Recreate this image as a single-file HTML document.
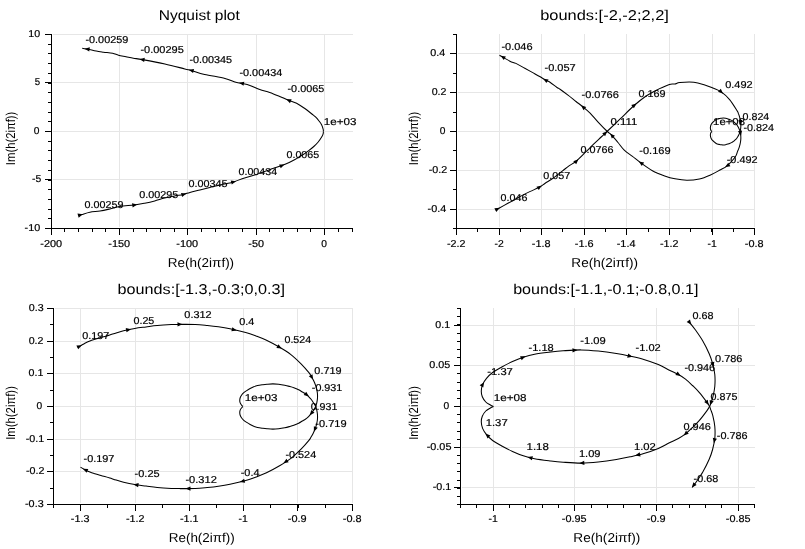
<!DOCTYPE html>
<html><head><meta charset="utf-8"><style>
html,body{margin:0;padding:0;background:#fff;overflow:hidden;}
svg{display:block;}
text{font-family:"Liberation Sans", sans-serif;fill:#000;text-rendering:geometricPrecision;stroke:#000;stroke-width:0.2px;}
text.b{stroke:none;}
svg{filter:grayscale(1);}
</style></head><body>
<svg width="805" height="549" viewBox="0 0 805 549">
<rect width="805" height="549" fill="#fff"/>
<line x1="119.5" y1="34" x2="119.5" y2="227" stroke="#e6e6e6"/>
<line x1="187.5" y1="34" x2="187.5" y2="227" stroke="#e6e6e6"/>
<line x1="256.5" y1="34" x2="256.5" y2="227" stroke="#e6e6e6"/>
<line x1="324.5" y1="34" x2="324.5" y2="227" stroke="#e6e6e6"/>
<line x1="53" y1="179.5" x2="353" y2="179.5" stroke="#e6e6e6"/>
<line x1="53" y1="131.5" x2="353" y2="131.5" stroke="#e6e6e6"/>
<line x1="53" y1="82.5" x2="353" y2="82.5" stroke="#e6e6e6"/>
<line x1="53" y1="34.5" x2="353" y2="34.5" stroke="#e6e6e6"/>
<line x1="51" y1="228.5" x2="353" y2="228.5" stroke="#000"/>
<line x1="51.5" y1="34" x2="51.5" y2="229" stroke="#000"/>
<line x1="51.5" y1="229" x2="51.5" y2="235" stroke="#000"/>
<line x1="119.5" y1="229" x2="119.5" y2="235" stroke="#000"/>
<line x1="187.5" y1="229" x2="187.5" y2="235" stroke="#000"/>
<line x1="256.5" y1="229" x2="256.5" y2="235" stroke="#000"/>
<line x1="324.5" y1="229" x2="324.5" y2="235" stroke="#000"/>
<line x1="64.5" y1="229" x2="64.5" y2="232" stroke="#000"/>
<line x1="78.5" y1="229" x2="78.5" y2="232" stroke="#000"/>
<line x1="92.5" y1="229" x2="92.5" y2="232" stroke="#000"/>
<line x1="105.5" y1="229" x2="105.5" y2="232" stroke="#000"/>
<line x1="133.5" y1="229" x2="133.5" y2="232" stroke="#000"/>
<line x1="146.5" y1="229" x2="146.5" y2="232" stroke="#000"/>
<line x1="160.5" y1="229" x2="160.5" y2="232" stroke="#000"/>
<line x1="174.5" y1="229" x2="174.5" y2="232" stroke="#000"/>
<line x1="201.5" y1="229" x2="201.5" y2="232" stroke="#000"/>
<line x1="215.5" y1="229" x2="215.5" y2="232" stroke="#000"/>
<line x1="228.5" y1="229" x2="228.5" y2="232" stroke="#000"/>
<line x1="242.5" y1="229" x2="242.5" y2="232" stroke="#000"/>
<line x1="269.5" y1="229" x2="269.5" y2="232" stroke="#000"/>
<line x1="283.5" y1="229" x2="283.5" y2="232" stroke="#000"/>
<line x1="297.5" y1="229" x2="297.5" y2="232" stroke="#000"/>
<line x1="310.5" y1="229" x2="310.5" y2="232" stroke="#000"/>
<line x1="338.5" y1="229" x2="338.5" y2="232" stroke="#000"/>
<line x1="352.5" y1="229" x2="352.5" y2="232" stroke="#000"/>
<line x1="45" y1="228.5" x2="51" y2="228.5" stroke="#000"/>
<line x1="45" y1="179.5" x2="51" y2="179.5" stroke="#000"/>
<line x1="45" y1="131.5" x2="51" y2="131.5" stroke="#000"/>
<line x1="45" y1="82.5" x2="51" y2="82.5" stroke="#000"/>
<line x1="45" y1="34.5" x2="51" y2="34.5" stroke="#000"/>
<line x1="48" y1="218.5" x2="51" y2="218.5" stroke="#000"/>
<line x1="48" y1="209.5" x2="51" y2="209.5" stroke="#000"/>
<line x1="48" y1="199.5" x2="51" y2="199.5" stroke="#000"/>
<line x1="48" y1="189.5" x2="51" y2="189.5" stroke="#000"/>
<line x1="48" y1="180.5" x2="51" y2="180.5" stroke="#000"/>
<line x1="48" y1="170.5" x2="51" y2="170.5" stroke="#000"/>
<line x1="48" y1="160.5" x2="51" y2="160.5" stroke="#000"/>
<line x1="48" y1="150.5" x2="51" y2="150.5" stroke="#000"/>
<line x1="48" y1="141.5" x2="51" y2="141.5" stroke="#000"/>
<line x1="48" y1="121.5" x2="51" y2="121.5" stroke="#000"/>
<line x1="48" y1="112.5" x2="51" y2="112.5" stroke="#000"/>
<line x1="48" y1="102.5" x2="51" y2="102.5" stroke="#000"/>
<line x1="48" y1="92.5" x2="51" y2="92.5" stroke="#000"/>
<line x1="48" y1="83.5" x2="51" y2="83.5" stroke="#000"/>
<line x1="48" y1="73.5" x2="51" y2="73.5" stroke="#000"/>
<line x1="48" y1="63.5" x2="51" y2="63.5" stroke="#000"/>
<line x1="48" y1="53.5" x2="51" y2="53.5" stroke="#000"/>
<line x1="48" y1="44.5" x2="51" y2="44.5" stroke="#000"/>
<text x="40.27" y="246.90" font-size="10" textLength="21.81" lengthAdjust="spacingAndGlyphs">-200</text>
<text x="108.27" y="246.90" font-size="10" textLength="21.81" lengthAdjust="spacingAndGlyphs">-150</text>
<text x="176.27" y="246.90" font-size="10" textLength="21.81" lengthAdjust="spacingAndGlyphs">-100</text>
<text x="248.36" y="246.90" font-size="10" textLength="15.63" lengthAdjust="spacingAndGlyphs">-50</text>
<text x="321.36" y="246.90" font-size="10" textLength="5.69" lengthAdjust="spacingAndGlyphs">0</text>
<text x="24.56" y="231.00" font-size="10" textLength="15.63" lengthAdjust="spacingAndGlyphs">-10</text>
<text x="32.06" y="182.00" font-size="10" textLength="9.25" lengthAdjust="spacingAndGlyphs">-5</text>
<text x="33.71" y="134.00" font-size="10" textLength="5.69" lengthAdjust="spacingAndGlyphs">0</text>
<text x="34.63" y="85.00" font-size="10" textLength="5.37" lengthAdjust="spacingAndGlyphs">5</text>
<text x="28.22" y="37.00" font-size="10" textLength="11.86" lengthAdjust="spacingAndGlyphs">10</text>
<text x="158.73" y="19.80" font-size="14.2" textLength="81.09" lengthAdjust="spacingAndGlyphs" class="b">Nyquist plot</text>
<text x="167.89" y="266.90" font-size="12.9" textLength="66.24" lengthAdjust="spacingAndGlyphs" class="b">Re(h(2iπf))</text>
<text class="b" transform="translate(15.05,164.10) rotate(-90)" x="-1.04" y="0" font-size="12.9" textLength="53.44" lengthAdjust="spacingAndGlyphs">Im(h(2iπf))</text>
<path d="M82.20,48.30 C83.17,48.45 85.67,48.73 88.00,49.20 C90.33,49.67 93.60,50.60 96.20,51.10 C98.80,51.60 100.87,51.83 103.60,52.20 C106.33,52.57 110.12,52.80 112.60,53.30 C115.08,53.80 116.27,54.63 118.50,55.20 C120.73,55.77 123.52,56.20 126.00,56.70 C128.48,57.20 130.67,57.72 133.40,58.20 C136.13,58.68 137.15,58.63 142.40,59.60 C147.65,60.57 157.83,62.45 164.90,64.00 C171.97,65.55 180.42,67.83 184.80,68.90 C189.18,69.97 187.90,69.48 191.20,70.40 C194.50,71.32 198.97,73.07 204.60,74.40 C210.23,75.73 219.95,77.13 225.00,78.40 C230.05,79.67 232.08,81.17 234.90,82.00 C237.72,82.83 239.40,82.83 241.90,83.40 C244.40,83.97 246.92,84.40 249.90,85.40 C252.88,86.40 256.50,88.23 259.80,89.40 C263.10,90.57 266.38,91.23 269.70,92.40 C273.02,93.57 276.55,95.08 279.70,96.40 C282.85,97.72 285.78,99.15 288.60,100.30 C291.42,101.45 293.95,101.97 296.60,103.30 C299.25,104.63 301.95,106.52 304.50,108.30 C307.05,110.08 310.07,112.57 311.90,114.00 C313.73,115.43 314.28,115.70 315.50,116.90 C316.72,118.10 318.17,119.87 319.20,121.20 C320.23,122.53 321.03,123.55 321.70,124.90 C322.37,126.25 322.92,128.20 323.20,129.30 C323.48,130.40 323.37,131.13 323.40,131.50" fill="none" stroke="#000" stroke-width="1.05" stroke-linejoin="round"/>
<path d="M78.50,215.50 C79.07,215.33 80.00,215.05 81.90,214.50 C83.80,213.95 86.88,212.78 89.90,212.20 C92.92,211.62 96.67,211.55 100.00,211.00 C103.33,210.45 106.58,209.67 109.90,208.90 C113.22,208.13 115.83,207.05 119.90,206.40 C123.97,205.75 130.17,205.53 134.30,205.00 C138.43,204.47 141.30,203.88 144.70,203.20 C148.10,202.52 151.38,201.78 154.70,200.90 C158.02,200.02 161.28,198.73 164.60,197.90 C167.92,197.07 171.45,196.48 174.60,195.90 C177.75,195.32 180.95,194.98 183.50,194.40 C186.05,193.82 187.17,193.15 189.90,192.40 C192.63,191.65 196.58,190.73 199.90,189.90 C203.22,189.07 206.48,188.23 209.80,187.40 C213.12,186.57 216.48,185.65 219.80,184.90 C223.12,184.15 227.30,183.43 229.70,182.90 C232.10,182.37 231.72,182.53 234.20,181.70 C236.68,180.87 241.20,179.02 244.60,177.90 C248.00,176.78 251.83,175.87 254.60,175.00 C257.37,174.13 259.07,173.45 261.20,172.70 C263.33,171.95 265.33,171.23 267.40,170.50 C269.47,169.77 271.22,169.12 273.60,168.30 C275.98,167.48 279.10,166.58 281.70,165.60 C284.30,164.62 286.92,163.45 289.20,162.40 C291.48,161.35 293.65,160.28 295.40,159.30 C297.15,158.32 298.45,157.25 299.70,156.50 C300.95,155.75 301.40,155.78 302.90,154.80 C304.40,153.82 306.88,151.98 308.70,150.60 C310.52,149.22 312.22,147.93 313.80,146.50 C315.38,145.07 316.82,143.70 318.20,142.00 C319.58,140.30 321.27,137.72 322.10,136.30 C322.93,134.88 322.98,134.30 323.20,133.50 C323.42,132.70 323.37,131.83 323.40,131.50" fill="none" stroke="#000" stroke-width="1.05" stroke-linejoin="round"/>
<path d="M84.61,48.67 L89.88,47.37 L89.23,51.52 Z" fill="#000"/>
<path d="M139.54,59.15 L144.80,57.85 L144.16,62.00 Z" fill="#000"/>
<path d="M188.69,69.81 L194.04,68.91 L193.08,73.00 Z" fill="#000"/>
<path d="M239.01,82.82 L244.32,81.74 L243.50,85.86 Z" fill="#000"/>
<path d="M286.24,99.26 L291.66,99.35 L289.97,103.19 Z" fill="#000"/>
<path d="M82.87,214.21 L78.67,217.64 L77.49,213.61 Z" fill="#000"/>
<path d="M137.25,204.49 L132.68,207.41 L131.96,203.27 Z" fill="#000"/>
<path d="M186.35,193.51 L182.21,197.00 L180.95,193.00 Z" fill="#000"/>
<path d="M236.09,181.20 L231.80,184.51 L230.71,180.46 Z" fill="#000"/>
<path d="M284.52,164.40 L280.74,168.29 L279.10,164.43 Z" fill="#000"/>
<text x="85.42" y="43.00" font-size="10.0" textLength="42.90" lengthAdjust="spacingAndGlyphs">-0.00259</text>
<text x="140.41" y="52.90" font-size="10.0" textLength="43.35" lengthAdjust="spacingAndGlyphs">-0.00295</text>
<text x="189.42" y="63.10" font-size="10.0" textLength="42.74" lengthAdjust="spacingAndGlyphs">-0.00345</text>
<text x="239.42" y="75.80" font-size="10.0" textLength="43.00" lengthAdjust="spacingAndGlyphs">-0.00434</text>
<text x="287.52" y="91.70" font-size="10.0" textLength="36.74" lengthAdjust="spacingAndGlyphs">-0.0065</text>
<text x="323.82" y="125.00" font-size="10.0" textLength="32.59" lengthAdjust="spacingAndGlyphs">1e+03</text>
<text x="286.48" y="157.70" font-size="10.0" textLength="32.77" lengthAdjust="spacingAndGlyphs">0.0065</text>
<text x="238.48" y="175.00" font-size="10.0" textLength="38.63" lengthAdjust="spacingAndGlyphs">0.00434</text>
<text x="188.48" y="187.30" font-size="10.0" textLength="39.08" lengthAdjust="spacingAndGlyphs">0.00345</text>
<text x="139.28" y="197.70" font-size="10.0" textLength="39.08" lengthAdjust="spacingAndGlyphs">0.00295</text>
<text x="84.58" y="208.00" font-size="10.0" textLength="38.83" lengthAdjust="spacingAndGlyphs">0.00259</text>
<line x1="499.5" y1="34" x2="499.5" y2="227" stroke="#e6e6e6"/>
<line x1="541.5" y1="34" x2="541.5" y2="227" stroke="#e6e6e6"/>
<line x1="584.5" y1="34" x2="584.5" y2="227" stroke="#e6e6e6"/>
<line x1="626.5" y1="34" x2="626.5" y2="227" stroke="#e6e6e6"/>
<line x1="669.5" y1="34" x2="669.5" y2="227" stroke="#e6e6e6"/>
<line x1="712.5" y1="34" x2="712.5" y2="227" stroke="#e6e6e6"/>
<line x1="754.5" y1="34" x2="754.5" y2="227" stroke="#e6e6e6"/>
<line x1="458" y1="209.5" x2="755" y2="209.5" stroke="#e6e6e6"/>
<line x1="458" y1="170.5" x2="755" y2="170.5" stroke="#e6e6e6"/>
<line x1="458" y1="131.5" x2="755" y2="131.5" stroke="#e6e6e6"/>
<line x1="458" y1="92.5" x2="755" y2="92.5" stroke="#e6e6e6"/>
<line x1="458" y1="53.5" x2="755" y2="53.5" stroke="#e6e6e6"/>
<line x1="456" y1="228.5" x2="755" y2="228.5" stroke="#000"/>
<line x1="456.5" y1="34" x2="456.5" y2="229" stroke="#000"/>
<line x1="456.5" y1="229" x2="456.5" y2="235" stroke="#000"/>
<line x1="499.5" y1="229" x2="499.5" y2="235" stroke="#000"/>
<line x1="541.5" y1="229" x2="541.5" y2="235" stroke="#000"/>
<line x1="584.5" y1="229" x2="584.5" y2="235" stroke="#000"/>
<line x1="626.5" y1="229" x2="626.5" y2="235" stroke="#000"/>
<line x1="669.5" y1="229" x2="669.5" y2="235" stroke="#000"/>
<line x1="712.5" y1="229" x2="712.5" y2="235" stroke="#000"/>
<line x1="754.5" y1="229" x2="754.5" y2="235" stroke="#000"/>
<line x1="477.5" y1="229" x2="477.5" y2="232" stroke="#000"/>
<line x1="520.5" y1="229" x2="520.5" y2="232" stroke="#000"/>
<line x1="562.5" y1="229" x2="562.5" y2="232" stroke="#000"/>
<line x1="605.5" y1="229" x2="605.5" y2="232" stroke="#000"/>
<line x1="648.5" y1="229" x2="648.5" y2="232" stroke="#000"/>
<line x1="690.5" y1="229" x2="690.5" y2="232" stroke="#000"/>
<line x1="711.5" y1="229" x2="711.5" y2="232" stroke="#000"/>
<line x1="733.5" y1="229" x2="733.5" y2="232" stroke="#000"/>
<line x1="450" y1="209.5" x2="456" y2="209.5" stroke="#000"/>
<line x1="450" y1="170.5" x2="456" y2="170.5" stroke="#000"/>
<line x1="450" y1="131.5" x2="456" y2="131.5" stroke="#000"/>
<line x1="450" y1="92.5" x2="456" y2="92.5" stroke="#000"/>
<line x1="450" y1="53.5" x2="456" y2="53.5" stroke="#000"/>
<line x1="453" y1="228.5" x2="456" y2="228.5" stroke="#000"/>
<line x1="453" y1="189.5" x2="456" y2="189.5" stroke="#000"/>
<line x1="453" y1="150.5" x2="456" y2="150.5" stroke="#000"/>
<line x1="453" y1="112.5" x2="456" y2="112.5" stroke="#000"/>
<line x1="453" y1="73.5" x2="456" y2="73.5" stroke="#000"/>
<line x1="453" y1="34.5" x2="456" y2="34.5" stroke="#000"/>
<text x="446.98" y="246.90" font-size="10" textLength="18.50" lengthAdjust="spacingAndGlyphs">-2.2</text>
<text x="494.63" y="246.90" font-size="10" textLength="9.21" lengthAdjust="spacingAndGlyphs">-2</text>
<text x="531.82" y="246.90" font-size="10" textLength="18.75" lengthAdjust="spacingAndGlyphs">-1.8</text>
<text x="574.79" y="246.90" font-size="10" textLength="18.81" lengthAdjust="spacingAndGlyphs">-1.6</text>
<text x="616.76" y="246.90" font-size="10" textLength="18.71" lengthAdjust="spacingAndGlyphs">-1.4</text>
<text x="659.98" y="246.90" font-size="10" textLength="18.50" lengthAdjust="spacingAndGlyphs">-1.2</text>
<text x="707.59" y="246.90" font-size="10" textLength="9.28" lengthAdjust="spacingAndGlyphs">-1</text>
<text x="744.82" y="246.90" font-size="10" textLength="18.75" lengthAdjust="spacingAndGlyphs">-0.8</text>
<text x="427.61" y="212.00" font-size="10" textLength="18.71" lengthAdjust="spacingAndGlyphs">-0.4</text>
<text x="428.78" y="173.00" font-size="10" textLength="18.50" lengthAdjust="spacingAndGlyphs">-0.2</text>
<text x="439.66" y="134.00" font-size="10" textLength="5.69" lengthAdjust="spacingAndGlyphs">0</text>
<text x="431.73" y="95.00" font-size="10" textLength="14.76" lengthAdjust="spacingAndGlyphs">0.2</text>
<text x="430.36" y="56.00" font-size="10" textLength="14.98" lengthAdjust="spacingAndGlyphs">0.4</text>
<text x="540.24" y="19.80" font-size="14.2" textLength="128.63" lengthAdjust="spacingAndGlyphs" class="b">bounds:[-2,-2;2,2]</text>
<text x="571.39" y="266.90" font-size="12.9" textLength="66.65" lengthAdjust="spacingAndGlyphs" class="b">Re(h(2iπf))</text>
<text class="b" transform="translate(418.40,164.10) rotate(-90)" x="-1.04" y="0" font-size="12.9" textLength="53.44" lengthAdjust="spacingAndGlyphs">Im(h(2iπf))</text>
<path d="M495.50,210.00 C496.08,209.70 496.93,209.32 499.00,208.20 C501.07,207.08 505.17,204.80 507.90,203.30 C510.63,201.80 512.92,200.57 515.40,199.20 C517.88,197.83 520.32,196.40 522.80,195.10 C525.28,193.80 527.57,192.70 530.30,191.40 C533.03,190.10 536.72,188.67 539.20,187.30 C541.68,185.93 543.08,184.58 545.20,183.20 C547.32,181.82 549.05,181.02 551.90,179.00 C554.75,176.98 559.45,173.28 562.30,171.10 C565.15,168.92 566.63,167.58 569.00,165.90 C571.37,164.22 573.67,163.37 576.50,161.00 C579.33,158.63 583.15,154.52 586.00,151.70 C588.85,148.88 591.07,146.55 593.60,144.10 C596.13,141.65 598.97,139.10 601.20,137.00 C603.43,134.90 603.88,134.47 607.00,131.50 C610.12,128.53 615.38,123.53 619.90,119.20 C624.42,114.87 629.67,109.42 634.10,105.50 C638.53,101.58 642.35,98.47 646.50,95.70 C650.65,92.93 655.18,90.78 659.00,88.90 C662.82,87.02 666.75,85.22 669.40,84.40 C672.05,83.58 673.15,84.32 674.90,84.00 C676.65,83.68 676.75,82.80 679.90,82.50 C683.05,82.20 689.65,81.80 693.80,82.20 C697.95,82.60 701.65,83.95 704.80,84.90 C707.95,85.85 709.97,86.73 712.70,87.90 C715.43,89.07 718.38,89.95 721.20,91.90 C724.02,93.85 726.89,96.35 729.60,99.60 C732.31,102.85 736.01,109.09 737.46,111.38 C738.91,113.67 738.00,112.57 738.30,113.33 C738.59,114.09 738.95,115.00 739.25,115.94 C739.55,116.88 739.87,118.07 740.08,118.96 C740.30,119.85 740.40,120.46 740.53,121.29 C740.65,122.11 740.76,122.99 740.81,123.90 C740.86,124.81 740.86,125.84 740.81,126.75 C740.77,127.66 740.64,128.68 740.55,129.34 C740.46,130.00 740.36,130.36 740.29,130.72 C740.22,131.08 740.22,131.21 740.13,131.50 C740.05,131.79 740.02,131.92 739.80,132.47 C739.57,133.02 739.12,134.13 738.81,134.80 C738.49,135.47 738.21,135.95 737.91,136.49 C737.60,137.02 737.30,137.57 736.99,138.01 C736.69,138.44 736.42,138.75 736.07,139.10 C735.72,139.45 735.33,139.73 734.90,140.12 C734.46,140.51 734.01,141.03 733.45,141.45 C732.89,141.88 732.17,142.33 731.56,142.66 C730.95,143.00 730.37,143.21 729.77,143.45 C729.18,143.69 728.68,143.88 727.99,144.09 C727.30,144.30 726.39,144.54 725.62,144.68 C724.85,144.83 724.14,144.94 723.38,144.94 C722.61,144.95 721.71,144.81 721.06,144.73 C720.40,144.65 720.06,144.58 719.44,144.45 C718.82,144.31 717.93,144.13 717.33,143.92 C716.73,143.72 716.34,143.50 715.86,143.21 C715.38,142.92 714.90,142.54 714.45,142.17 C713.99,141.79 713.55,141.39 713.12,140.95 C712.69,140.52 712.20,140.04 711.85,139.58 C711.51,139.11 711.28,138.65 711.06,138.17 C710.84,137.70 710.66,137.20 710.55,136.70 C710.44,136.20 710.39,135.66 710.38,135.18 C710.38,134.70 710.41,134.24 710.51,133.80 C710.61,133.37 710.80,132.89 710.97,132.57 C711.14,132.25 711.35,132.08 711.52,131.90 C711.68,131.73 711.89,131.57 711.96,131.50" fill="none" stroke="#000" stroke-width="1.05" stroke-linejoin="round"/>
<path d="M499.50,55.20 C501.23,56.20 507.17,59.83 509.90,61.20 C512.63,62.57 513.42,62.22 515.90,63.40 C518.38,64.58 522.07,66.80 524.80,68.30 C527.53,69.80 529.82,71.03 532.30,72.40 C534.78,73.77 537.47,75.20 539.70,76.50 C541.93,77.80 543.98,79.23 545.70,80.20 C547.42,81.17 548.12,81.08 550.00,82.30 C551.88,83.52 555.33,86.33 557.00,87.50 C558.67,88.67 558.17,88.02 560.00,89.30 C561.83,90.58 565.33,93.17 568.00,95.20 C570.67,97.23 573.57,99.60 576.00,101.50 C578.43,103.40 580.25,104.67 582.60,106.60 C584.95,108.53 587.52,110.52 590.10,113.10 C592.68,115.68 595.23,119.03 598.10,122.10 C600.97,125.17 605.05,129.33 607.30,131.50 C609.55,133.67 609.82,133.27 611.60,135.10 C613.38,136.93 615.93,140.05 618.00,142.50 C620.07,144.95 621.58,147.48 624.00,149.80 C626.42,152.12 629.75,154.27 632.50,156.40 C635.25,158.53 637.18,160.22 640.50,162.60 C643.82,164.98 648.37,168.48 652.40,170.70 C656.43,172.92 660.93,174.55 664.70,175.90 C668.47,177.25 671.32,178.07 675.00,178.80 C678.68,179.53 682.73,180.27 686.80,180.30 C690.87,180.33 695.53,179.85 699.40,179.00 C703.27,178.15 706.57,176.70 710.00,175.20 C713.43,173.70 717.13,171.57 720.00,170.00 C722.87,168.43 724.67,167.97 727.20,165.80 C729.73,163.63 733.49,159.36 735.20,157.00 C736.91,154.64 736.95,152.84 737.46,151.62 C737.98,150.40 738.00,150.43 738.30,149.67 C738.59,148.91 738.95,148.00 739.25,147.06 C739.55,146.12 739.87,144.93 740.08,144.04 C740.30,143.15 740.40,142.54 740.53,141.71 C740.65,140.89 740.76,140.01 740.81,139.10 C740.86,138.19 740.86,137.16 740.81,136.25 C740.77,135.34 740.64,134.32 740.55,133.66 C740.46,133.00 740.36,132.64 740.29,132.28 C740.22,131.92 740.22,131.79 740.13,131.50 C740.05,131.21 740.02,131.08 739.80,130.53 C739.57,129.98 739.12,128.87 738.81,128.20 C738.49,127.53 738.21,127.05 737.91,126.51 C737.60,125.98 737.30,125.43 736.99,124.99 C736.69,124.56 736.42,124.25 736.07,123.90 C735.72,123.55 735.33,123.27 734.90,122.88 C734.46,122.49 734.01,121.97 733.45,121.55 C732.89,121.12 732.17,120.67 731.56,120.34 C730.95,120.00 730.37,119.79 729.77,119.55 C729.18,119.31 728.68,119.12 727.99,118.91 C727.30,118.70 726.39,118.46 725.62,118.32 C724.85,118.17 724.14,118.06 723.38,118.06 C722.61,118.05 721.71,118.19 721.06,118.27 C720.40,118.35 720.06,118.42 719.44,118.55 C718.82,118.69 717.93,118.87 717.33,119.08 C716.73,119.28 716.34,119.50 715.86,119.79 C715.38,120.08 714.90,120.46 714.45,120.83 C713.99,121.21 713.55,121.61 713.12,122.05 C712.69,122.48 712.20,122.96 711.85,123.42 C711.51,123.89 711.28,124.35 711.06,124.83 C710.84,125.30 710.66,125.80 710.55,126.30 C710.44,126.80 710.39,127.34 710.38,127.82 C710.38,128.30 710.41,128.76 710.51,129.20 C710.61,129.63 710.80,130.11 710.97,130.43 C711.14,130.75 711.35,130.92 711.52,131.10 C711.68,131.27 711.89,131.43 711.96,131.50" fill="none" stroke="#000" stroke-width="1.05" stroke-linejoin="round"/>
<path d="M499.79,207.79 L496.31,211.95 L494.39,208.21 Z" fill="#000"/>
<path d="M541.77,185.54 L538.83,190.10 L536.46,186.63 Z" fill="#000"/>
<path d="M578.34,159.20 L576.24,164.20 L573.30,161.19 Z" fill="#000"/>
<path d="M607.29,131.23 L605.11,136.19 L602.22,133.14 Z" fill="#000"/>
<path d="M636.49,103.61 L633.87,108.36 L631.27,105.06 Z" fill="#000"/>
<path d="M723.10,93.64 L717.99,91.81 L720.83,88.71 Z" fill="#000"/>
<path d="M740.93,124.96 L738.30,120.21 L742.47,119.76 Z" fill="#000"/>
<path d="M500.51,55.79 L505.89,56.46 L503.80,60.10 Z" fill="#000"/>
<path d="M543.23,78.68 L548.59,79.51 L546.39,83.09 Z" fill="#000"/>
<path d="M581.08,105.28 L586.23,106.97 L583.48,110.14 Z" fill="#000"/>
<path d="M610.14,133.41 L615.00,135.82 L611.82,138.57 Z" fill="#000"/>
<path d="M638.82,161.46 L644.14,162.54 L641.78,166.01 Z" fill="#000"/>
<path d="M725.04,167.06 L728.30,162.73 L730.42,166.35 Z" fill="#000"/>
<path d="M740.95,135.78 L737.96,131.26 L742.09,130.47 Z" fill="#000"/>
<text x="501.41" y="50.00" font-size="10.0" textLength="31.17" lengthAdjust="spacingAndGlyphs">-0.046</text>
<text x="544.51" y="71.40" font-size="10.0" textLength="31.24" lengthAdjust="spacingAndGlyphs">-0.057</text>
<text x="581.51" y="97.80" font-size="10.0" textLength="37.37" lengthAdjust="spacingAndGlyphs">-0.0766</text>
<text x="500.58" y="200.60" font-size="10.0" textLength="26.79" lengthAdjust="spacingAndGlyphs">0.046</text>
<text x="543.38" y="179.00" font-size="10.0" textLength="26.96" lengthAdjust="spacingAndGlyphs">0.057</text>
<text x="580.48" y="153.00" font-size="10.0" textLength="33.10" lengthAdjust="spacingAndGlyphs">0.0766</text>
<text x="610.48" y="125.00" font-size="10.0" textLength="26.74" lengthAdjust="spacingAndGlyphs">0.111</text>
<text x="638.48" y="97.00" font-size="10.0" textLength="27.03" lengthAdjust="spacingAndGlyphs">0.169</text>
<text x="725.17" y="87.90" font-size="10.0" textLength="27.48" lengthAdjust="spacingAndGlyphs">0.492</text>
<text x="639.31" y="153.80" font-size="10.0" textLength="31.21" lengthAdjust="spacingAndGlyphs">-0.169</text>
<text x="726.72" y="162.80" font-size="10.0" textLength="30.83" lengthAdjust="spacingAndGlyphs">-0.492</text>
<text x="742.58" y="120.00" font-size="10.0" textLength="26.73" lengthAdjust="spacingAndGlyphs">0.824</text>
<text x="743.52" y="130.50" font-size="10.0" textLength="30.60" lengthAdjust="spacingAndGlyphs">-0.824</text>
<text x="713.14" y="124.50" font-size="10.0" textLength="31.86" lengthAdjust="spacingAndGlyphs">1e+08</text>
<line x1="80.5" y1="308" x2="80.5" y2="503" stroke="#e6e6e6"/>
<line x1="135.5" y1="308" x2="135.5" y2="503" stroke="#e6e6e6"/>
<line x1="189.5" y1="308" x2="189.5" y2="503" stroke="#e6e6e6"/>
<line x1="243.5" y1="308" x2="243.5" y2="503" stroke="#e6e6e6"/>
<line x1="297.5" y1="308" x2="297.5" y2="503" stroke="#e6e6e6"/>
<line x1="352.5" y1="308" x2="352.5" y2="503" stroke="#e6e6e6"/>
<line x1="55" y1="471.5" x2="353" y2="471.5" stroke="#e6e6e6"/>
<line x1="55" y1="439.5" x2="353" y2="439.5" stroke="#e6e6e6"/>
<line x1="55" y1="406.5" x2="353" y2="406.5" stroke="#e6e6e6"/>
<line x1="55" y1="373.5" x2="353" y2="373.5" stroke="#e6e6e6"/>
<line x1="55" y1="341.5" x2="353" y2="341.5" stroke="#e6e6e6"/>
<line x1="55" y1="308.5" x2="353" y2="308.5" stroke="#e6e6e6"/>
<line x1="53" y1="504.5" x2="353" y2="504.5" stroke="#000"/>
<line x1="53.5" y1="308" x2="53.5" y2="505" stroke="#000"/>
<line x1="80.5" y1="505" x2="80.5" y2="511" stroke="#000"/>
<line x1="135.5" y1="505" x2="135.5" y2="511" stroke="#000"/>
<line x1="189.5" y1="505" x2="189.5" y2="511" stroke="#000"/>
<line x1="243.5" y1="505" x2="243.5" y2="511" stroke="#000"/>
<line x1="297.5" y1="505" x2="297.5" y2="511" stroke="#000"/>
<line x1="352.5" y1="505" x2="352.5" y2="511" stroke="#000"/>
<line x1="53.5" y1="505" x2="53.5" y2="508" stroke="#000"/>
<line x1="107.5" y1="505" x2="107.5" y2="508" stroke="#000"/>
<line x1="162.5" y1="505" x2="162.5" y2="508" stroke="#000"/>
<line x1="216.5" y1="505" x2="216.5" y2="508" stroke="#000"/>
<line x1="270.5" y1="505" x2="270.5" y2="508" stroke="#000"/>
<line x1="298.5" y1="505" x2="298.5" y2="508" stroke="#000"/>
<line x1="325.5" y1="505" x2="325.5" y2="508" stroke="#000"/>
<line x1="47" y1="504.5" x2="53" y2="504.5" stroke="#000"/>
<line x1="47" y1="471.5" x2="53" y2="471.5" stroke="#000"/>
<line x1="47" y1="439.5" x2="53" y2="439.5" stroke="#000"/>
<line x1="47" y1="406.5" x2="53" y2="406.5" stroke="#000"/>
<line x1="47" y1="373.5" x2="53" y2="373.5" stroke="#000"/>
<line x1="47" y1="341.5" x2="53" y2="341.5" stroke="#000"/>
<line x1="47" y1="308.5" x2="53" y2="308.5" stroke="#000"/>
<line x1="50" y1="488.5" x2="53" y2="488.5" stroke="#000"/>
<line x1="50" y1="455.5" x2="53" y2="455.5" stroke="#000"/>
<line x1="50" y1="422.5" x2="53" y2="422.5" stroke="#000"/>
<line x1="50" y1="390.5" x2="53" y2="390.5" stroke="#000"/>
<line x1="50" y1="357.5" x2="53" y2="357.5" stroke="#000"/>
<line x1="50" y1="324.5" x2="53" y2="324.5" stroke="#000"/>
<text x="70.88" y="522.10" font-size="10" textLength="18.63" lengthAdjust="spacingAndGlyphs">-1.3</text>
<text x="125.98" y="522.10" font-size="10" textLength="18.50" lengthAdjust="spacingAndGlyphs">-1.2</text>
<text x="179.94" y="522.10" font-size="10" textLength="18.56" lengthAdjust="spacingAndGlyphs">-1.1</text>
<text x="238.59" y="522.10" font-size="10" textLength="9.28" lengthAdjust="spacingAndGlyphs">-1</text>
<text x="287.83" y="522.10" font-size="10" textLength="18.77" lengthAdjust="spacingAndGlyphs">-0.9</text>
<text x="342.82" y="522.10" font-size="10" textLength="18.75" lengthAdjust="spacingAndGlyphs">-0.8</text>
<text x="25.03" y="507.00" font-size="10" textLength="18.63" lengthAdjust="spacingAndGlyphs">-0.3</text>
<text x="25.93" y="474.00" font-size="10" textLength="18.50" lengthAdjust="spacingAndGlyphs">-0.2</text>
<text x="25.69" y="442.00" font-size="10" textLength="18.56" lengthAdjust="spacingAndGlyphs">-0.1</text>
<text x="36.56" y="409.00" font-size="10" textLength="5.69" lengthAdjust="spacingAndGlyphs">0</text>
<text x="28.64" y="376.00" font-size="10" textLength="14.83" lengthAdjust="spacingAndGlyphs">0.1</text>
<text x="28.68" y="344.00" font-size="10" textLength="14.76" lengthAdjust="spacingAndGlyphs">0.2</text>
<text x="28.78" y="311.00" font-size="10" textLength="14.90" lengthAdjust="spacingAndGlyphs">0.3</text>
<text x="117.56" y="294.40" font-size="14.2" textLength="167.50" lengthAdjust="spacingAndGlyphs" class="b">bounds:[-1.3,-0.3;0,0.3]</text>
<text x="168.70" y="541.90" font-size="12.9" textLength="66.14" lengthAdjust="spacingAndGlyphs" class="b">Re(h(2iπf))</text>
<text class="b" transform="translate(15.40,438.80) rotate(-90)" x="-1.05" y="0" font-size="12.9" textLength="53.75" lengthAdjust="spacingAndGlyphs">Im(h(2iπf))</text>
<path d="M77.50,347.30 C77.98,347.07 79.17,346.58 80.40,345.90 C81.63,345.22 83.32,344.03 84.90,343.20 C86.48,342.37 88.23,341.57 89.90,340.90 C91.57,340.23 93.23,339.73 94.90,339.20 C96.57,338.67 98.25,338.15 99.90,337.70 C101.55,337.25 103.15,336.95 104.80,336.50 C106.45,336.05 107.90,335.60 109.80,335.00 C111.70,334.40 113.90,333.62 116.20,332.90 C118.50,332.18 120.50,331.45 123.60,330.70 C126.70,329.95 131.07,329.03 134.80,328.40 C138.53,327.77 142.27,327.38 146.00,326.90 C149.73,326.42 152.98,325.88 157.20,325.50 C161.42,325.12 167.50,324.78 171.30,324.60 C175.10,324.42 176.00,324.42 180.00,324.40 C184.00,324.38 190.75,324.32 195.30,324.50 C199.85,324.68 203.45,325.12 207.30,325.50 C211.15,325.88 214.62,326.25 218.40,326.80 C222.18,327.35 225.45,327.85 230.00,328.80 C234.55,329.75 241.37,331.30 245.70,332.50 C250.03,333.70 252.53,334.70 256.00,336.00 C259.47,337.30 262.57,338.42 266.50,340.30 C270.43,342.18 275.53,344.92 279.60,347.30 C283.67,349.68 287.28,351.80 290.90,354.60 C294.52,357.40 298.30,361.10 301.30,364.10 C304.30,367.10 307.28,370.65 308.90,372.62 C310.52,374.59 310.27,374.62 311.03,375.90 C311.79,377.18 312.70,378.72 313.46,380.30 C314.22,381.88 315.05,383.88 315.59,385.38 C316.13,386.88 316.41,387.91 316.72,389.30 C317.03,390.69 317.33,392.17 317.45,393.70 C317.57,395.23 317.56,396.97 317.45,398.50 C317.34,400.03 317.01,401.75 316.79,402.86 C316.56,403.97 316.30,404.57 316.12,405.18 C315.94,405.79 315.93,406.01 315.72,406.50 C315.51,406.99 315.42,407.21 314.86,408.14 C314.29,409.07 313.13,410.93 312.33,412.06 C311.52,413.19 310.80,414.00 310.03,414.90 C309.26,415.80 308.48,416.73 307.70,417.46 C306.92,418.19 306.23,418.71 305.34,419.30 C304.45,419.89 303.46,420.36 302.35,421.02 C301.23,421.68 300.07,422.55 298.65,423.26 C297.23,423.97 295.39,424.74 293.83,425.30 C292.26,425.86 290.79,426.22 289.27,426.62 C287.75,427.02 286.48,427.35 284.71,427.70 C282.94,428.05 280.62,428.46 278.66,428.70 C276.69,428.94 274.87,429.13 272.93,429.14 C270.99,429.15 268.68,428.92 267.01,428.78 C265.34,428.64 264.47,428.53 262.88,428.30 C261.30,428.07 259.02,427.77 257.49,427.42 C255.97,427.07 254.96,426.71 253.73,426.22 C252.51,425.73 251.31,425.09 250.14,424.46 C248.98,423.83 247.85,423.15 246.75,422.42 C245.64,421.69 244.40,420.88 243.52,420.10 C242.64,419.32 242.04,418.55 241.49,417.74 C240.93,416.93 240.48,416.10 240.19,415.26 C239.90,414.42 239.78,413.51 239.76,412.70 C239.74,411.89 239.84,411.11 240.09,410.38 C240.34,409.65 240.81,408.95 241.26,408.30 C241.71,407.65 242.54,406.80 242.80,406.50" fill="none" stroke="#000" stroke-width="1.05" stroke-linejoin="round"/>
<path d="M80.50,467.16 C81.23,467.60 83.33,468.98 84.90,469.80 C86.47,470.62 88.23,471.43 89.90,472.10 C91.57,472.77 93.23,473.27 94.90,473.80 C96.57,474.33 98.25,474.85 99.90,475.30 C101.55,475.75 103.15,476.05 104.80,476.50 C106.45,476.95 107.90,477.40 109.80,478.00 C111.70,478.60 113.90,479.38 116.20,480.10 C118.50,480.82 120.50,481.55 123.60,482.30 C126.70,483.05 131.07,483.97 134.80,484.60 C138.53,485.23 142.27,485.62 146.00,486.10 C149.73,486.58 152.98,487.12 157.20,487.50 C161.42,487.88 167.50,488.22 171.30,488.40 C175.10,488.58 176.00,488.58 180.00,488.60 C184.00,488.62 190.75,488.68 195.30,488.50 C199.85,488.32 203.45,487.88 207.30,487.50 C211.15,487.12 214.62,486.75 218.40,486.20 C222.18,485.65 225.45,485.15 230.00,484.20 C234.55,483.25 241.37,481.70 245.70,480.50 C250.03,479.30 252.53,478.30 256.00,477.00 C259.47,475.70 262.57,474.58 266.50,472.70 C270.43,470.82 275.53,468.08 279.60,465.70 C283.67,463.32 287.28,461.20 290.90,458.40 C294.52,455.60 298.30,451.90 301.30,448.90 C304.30,445.90 307.28,442.35 308.90,440.38 C310.52,438.41 310.27,438.38 311.03,437.10 C311.79,435.82 312.70,434.28 313.46,432.70 C314.22,431.12 315.05,429.12 315.59,427.62 C316.13,426.12 316.41,425.09 316.72,423.70 C317.03,422.31 317.33,420.83 317.45,419.30 C317.57,417.77 317.56,416.03 317.45,414.50 C317.34,412.97 317.01,411.25 316.79,410.14 C316.56,409.03 316.30,408.43 316.12,407.82 C315.94,407.21 315.93,406.99 315.72,406.50 C315.51,406.01 315.42,405.79 314.86,404.86 C314.29,403.93 313.13,402.07 312.33,400.94 C311.52,399.81 310.80,399.00 310.03,398.10 C309.26,397.20 308.48,396.27 307.70,395.54 C306.92,394.81 306.23,394.29 305.34,393.70 C304.45,393.11 303.46,392.64 302.35,391.98 C301.23,391.32 300.07,390.45 298.65,389.74 C297.23,389.03 295.39,388.26 293.83,387.70 C292.26,387.14 290.79,386.78 289.27,386.38 C287.75,385.98 286.48,385.65 284.71,385.30 C282.94,384.95 280.62,384.54 278.66,384.30 C276.69,384.06 274.87,383.87 272.93,383.86 C270.99,383.85 268.68,384.08 267.01,384.22 C265.34,384.36 264.47,384.47 262.88,384.70 C261.30,384.93 259.02,385.23 257.49,385.58 C255.97,385.93 254.96,386.29 253.73,386.78 C252.51,387.27 251.31,387.91 250.14,388.54 C248.98,389.17 247.85,389.85 246.75,390.58 C245.64,391.31 244.40,392.12 243.52,392.90 C242.64,393.68 242.04,394.45 241.49,395.26 C240.93,396.07 240.48,396.90 240.19,397.74 C239.90,398.58 239.78,399.49 239.76,400.30 C239.74,401.11 239.84,401.89 240.09,402.62 C240.34,403.35 240.81,404.05 241.26,404.70 C241.71,405.35 242.54,406.20 242.80,406.50" fill="none" stroke="#000" stroke-width="1.05" stroke-linejoin="round"/>
<path d="M81.80,345.22 L78.21,349.29 L76.39,345.50 Z" fill="#000"/>
<path d="M131.04,329.17 L126.57,332.23 L125.72,328.12 Z" fill="#000"/>
<path d="M182.50,324.34 L177.55,326.56 L177.45,322.36 Z" fill="#000"/>
<path d="M236.75,330.39 L231.40,331.29 L232.37,327.20 Z" fill="#000"/>
<path d="M281.80,348.48 L276.41,347.97 L278.38,344.27 Z" fill="#000"/>
<path d="M313.07,379.60 L308.82,376.24 L312.49,374.21 Z" fill="#000"/>
<path d="M309.76,415.24 L311.27,410.03 L314.53,412.67 Z" fill="#000"/>
<path d="M82.88,468.87 L88.30,469.05 L86.54,472.87 Z" fill="#000"/>
<path d="M133.45,484.42 L138.68,483.00 L138.13,487.16 Z" fill="#000"/>
<path d="M185.50,488.56 L190.49,486.43 L190.51,490.63 Z" fill="#000"/>
<path d="M239.78,481.90 L244.16,478.70 L245.13,482.79 Z" fill="#000"/>
<path d="M283.33,463.29 L286.39,458.81 L288.67,462.34 Z" fill="#000"/>
<path d="M313.89,431.66 L313.89,426.24 L317.76,427.86 Z" fill="#000"/>
<path d="M308.91,396.48 L303.67,395.06 L306.25,391.75 Z" fill="#000"/>
<text x="82.18" y="338.60" font-size="10.0" textLength="27.07" lengthAdjust="spacingAndGlyphs">0.197</text>
<text x="133.48" y="323.80" font-size="10.0" textLength="20.87" lengthAdjust="spacingAndGlyphs">0.25</text>
<text x="184.37" y="318.00" font-size="10.0" textLength="27.27" lengthAdjust="spacingAndGlyphs">0.312</text>
<text x="239.17" y="324.50" font-size="10.0" textLength="15.14" lengthAdjust="spacingAndGlyphs">0.4</text>
<text x="284.48" y="343.10" font-size="10.0" textLength="26.73" lengthAdjust="spacingAndGlyphs">0.524</text>
<text x="314.38" y="374.00" font-size="10.0" textLength="27.14" lengthAdjust="spacingAndGlyphs">0.719</text>
<text x="311.82" y="391.00" font-size="10.0" textLength="30.50" lengthAdjust="spacingAndGlyphs">-0.931</text>
<text x="310.68" y="409.70" font-size="10.0" textLength="26.64" lengthAdjust="spacingAndGlyphs">0.931</text>
<text x="244.81" y="400.80" font-size="10.0" textLength="32.70" lengthAdjust="spacingAndGlyphs">1e+03</text>
<text x="315.31" y="426.90" font-size="10.0" textLength="31.21" lengthAdjust="spacingAndGlyphs">-0.719</text>
<text x="285.42" y="457.90" font-size="10.0" textLength="30.80" lengthAdjust="spacingAndGlyphs">-0.524</text>
<text x="240.72" y="476.00" font-size="10.0" textLength="18.80" lengthAdjust="spacingAndGlyphs">-0.4</text>
<text x="185.41" y="482.90" font-size="10.0" textLength="31.45" lengthAdjust="spacingAndGlyphs">-0.312</text>
<text x="134.61" y="476.70" font-size="10.0" textLength="24.95" lengthAdjust="spacingAndGlyphs">-0.25</text>
<text x="83.52" y="462.00" font-size="10.0" textLength="30.93" lengthAdjust="spacingAndGlyphs">-0.197</text>
<line x1="493.5" y1="308" x2="493.5" y2="503" stroke="#e6e6e6"/>
<line x1="574.5" y1="308" x2="574.5" y2="503" stroke="#e6e6e6"/>
<line x1="656.5" y1="308" x2="656.5" y2="503" stroke="#e6e6e6"/>
<line x1="738.5" y1="308" x2="738.5" y2="503" stroke="#e6e6e6"/>
<line x1="462" y1="487.5" x2="755" y2="487.5" stroke="#e6e6e6"/>
<line x1="462" y1="447.5" x2="755" y2="447.5" stroke="#e6e6e6"/>
<line x1="462" y1="406.5" x2="755" y2="406.5" stroke="#e6e6e6"/>
<line x1="462" y1="365.5" x2="755" y2="365.5" stroke="#e6e6e6"/>
<line x1="462" y1="325.5" x2="755" y2="325.5" stroke="#e6e6e6"/>
<line x1="460" y1="504.5" x2="755" y2="504.5" stroke="#000"/>
<line x1="460.5" y1="308" x2="460.5" y2="505" stroke="#000"/>
<line x1="493.5" y1="505" x2="493.5" y2="511" stroke="#000"/>
<line x1="574.5" y1="505" x2="574.5" y2="511" stroke="#000"/>
<line x1="656.5" y1="505" x2="656.5" y2="511" stroke="#000"/>
<line x1="738.5" y1="505" x2="738.5" y2="511" stroke="#000"/>
<line x1="460.5" y1="505" x2="460.5" y2="508" stroke="#000"/>
<line x1="476.5" y1="505" x2="476.5" y2="508" stroke="#000"/>
<line x1="509.5" y1="505" x2="509.5" y2="508" stroke="#000"/>
<line x1="525.5" y1="505" x2="525.5" y2="508" stroke="#000"/>
<line x1="542.5" y1="505" x2="542.5" y2="508" stroke="#000"/>
<line x1="558.5" y1="505" x2="558.5" y2="508" stroke="#000"/>
<line x1="591.5" y1="505" x2="591.5" y2="508" stroke="#000"/>
<line x1="607.5" y1="505" x2="607.5" y2="508" stroke="#000"/>
<line x1="623.5" y1="505" x2="623.5" y2="508" stroke="#000"/>
<line x1="640.5" y1="505" x2="640.5" y2="508" stroke="#000"/>
<line x1="672.5" y1="505" x2="672.5" y2="508" stroke="#000"/>
<line x1="689.5" y1="505" x2="689.5" y2="508" stroke="#000"/>
<line x1="705.5" y1="505" x2="705.5" y2="508" stroke="#000"/>
<line x1="721.5" y1="505" x2="721.5" y2="508" stroke="#000"/>
<line x1="754.5" y1="505" x2="754.5" y2="508" stroke="#000"/>
<line x1="454" y1="487.5" x2="460" y2="487.5" stroke="#000"/>
<line x1="454" y1="447.5" x2="460" y2="447.5" stroke="#000"/>
<line x1="454" y1="406.5" x2="460" y2="406.5" stroke="#000"/>
<line x1="454" y1="365.5" x2="460" y2="365.5" stroke="#000"/>
<line x1="454" y1="325.5" x2="460" y2="325.5" stroke="#000"/>
<line x1="457" y1="504.5" x2="460" y2="504.5" stroke="#000"/>
<line x1="457" y1="496.5" x2="460" y2="496.5" stroke="#000"/>
<line x1="457" y1="488.5" x2="460" y2="488.5" stroke="#000"/>
<line x1="457" y1="480.5" x2="460" y2="480.5" stroke="#000"/>
<line x1="457" y1="471.5" x2="460" y2="471.5" stroke="#000"/>
<line x1="457" y1="463.5" x2="460" y2="463.5" stroke="#000"/>
<line x1="457" y1="455.5" x2="460" y2="455.5" stroke="#000"/>
<line x1="457" y1="439.5" x2="460" y2="439.5" stroke="#000"/>
<line x1="457" y1="431.5" x2="460" y2="431.5" stroke="#000"/>
<line x1="457" y1="422.5" x2="460" y2="422.5" stroke="#000"/>
<line x1="457" y1="414.5" x2="460" y2="414.5" stroke="#000"/>
<line x1="457" y1="398.5" x2="460" y2="398.5" stroke="#000"/>
<line x1="457" y1="390.5" x2="460" y2="390.5" stroke="#000"/>
<line x1="457" y1="382.5" x2="460" y2="382.5" stroke="#000"/>
<line x1="457" y1="373.5" x2="460" y2="373.5" stroke="#000"/>
<line x1="457" y1="357.5" x2="460" y2="357.5" stroke="#000"/>
<line x1="457" y1="349.5" x2="460" y2="349.5" stroke="#000"/>
<line x1="457" y1="341.5" x2="460" y2="341.5" stroke="#000"/>
<line x1="457" y1="333.5" x2="460" y2="333.5" stroke="#000"/>
<line x1="457" y1="324.5" x2="460" y2="324.5" stroke="#000"/>
<line x1="457" y1="316.5" x2="460" y2="316.5" stroke="#000"/>
<line x1="457" y1="308.5" x2="460" y2="308.5" stroke="#000"/>
<text x="488.59" y="522.00" font-size="10" textLength="9.28" lengthAdjust="spacingAndGlyphs">-1</text>
<text x="561.83" y="522.00" font-size="10" textLength="24.71" lengthAdjust="spacingAndGlyphs">-0.95</text>
<text x="646.83" y="522.00" font-size="10" textLength="18.77" lengthAdjust="spacingAndGlyphs">-0.9</text>
<text x="725.83" y="522.00" font-size="10" textLength="24.71" lengthAdjust="spacingAndGlyphs">-0.85</text>
<text x="432.79" y="490.00" font-size="10" textLength="18.56" lengthAdjust="spacingAndGlyphs">-0.1</text>
<text x="426.73" y="450.00" font-size="10" textLength="24.71" lengthAdjust="spacingAndGlyphs">-0.05</text>
<text x="443.41" y="409.00" font-size="10" textLength="5.69" lengthAdjust="spacingAndGlyphs">0</text>
<text x="429.37" y="368.00" font-size="10" textLength="20.98" lengthAdjust="spacingAndGlyphs">0.05</text>
<text x="435.39" y="328.00" font-size="10" textLength="14.83" lengthAdjust="spacingAndGlyphs">0.1</text>
<text x="513.16" y="294.20" font-size="14.2" textLength="185.29" lengthAdjust="spacingAndGlyphs" class="b">bounds:[-1.1,-0.1;-0.8,0.1]</text>
<text x="573.38" y="541.90" font-size="12.9" textLength="66.86" lengthAdjust="spacingAndGlyphs" class="b">Re(h(2iπf))</text>
<text class="b" transform="translate(418.00,438.80) rotate(-90)" x="-1.05" y="0" font-size="12.9" textLength="53.75" lengthAdjust="spacingAndGlyphs">Im(h(2iπf))</text>
<path d="M689.10,321.80 C690.17,323.17 693.22,326.80 695.50,330.00 C697.78,333.20 700.52,337.05 702.80,341.00 C705.08,344.95 707.57,349.95 709.20,353.70 C710.83,357.45 711.67,360.03 712.60,363.50 C713.53,366.97 714.43,370.67 714.80,374.50 C715.17,378.33 715.13,382.68 714.80,386.50 C714.47,390.32 713.47,394.62 712.80,397.40 C712.13,400.18 711.33,401.68 710.80,403.20 C710.27,404.72 710.23,405.27 709.60,406.50 C708.97,407.73 708.70,408.28 707.00,410.60 C705.30,412.92 701.82,417.58 699.40,420.40 C696.98,423.22 694.82,425.25 692.50,427.50 C690.18,429.75 687.85,432.07 685.50,433.90 C683.15,435.73 681.08,437.02 678.40,438.50 C675.72,439.98 672.75,441.15 669.40,442.80 C666.05,444.45 662.57,446.62 658.30,448.40 C654.03,450.18 648.50,452.10 643.80,453.50 C639.10,454.90 634.67,455.80 630.10,456.80 C625.53,457.80 621.72,458.63 616.40,459.50 C611.08,460.37 604.10,461.40 598.20,462.00 C592.30,462.60 586.83,463.07 581.00,463.10 C575.17,463.13 568.23,462.55 563.20,462.20 C558.17,461.85 555.57,461.57 550.80,461.00 C546.03,460.43 539.18,459.67 534.60,458.80 C530.02,457.93 526.98,457.03 523.30,455.80 C519.62,454.57 516.00,452.98 512.50,451.40 C509.00,449.82 505.62,448.12 502.30,446.30 C498.98,444.48 495.23,442.45 492.60,440.50 C489.97,438.55 488.17,436.62 486.50,434.60 C484.83,432.58 483.47,430.50 482.60,428.40 C481.73,426.30 481.35,424.03 481.30,422.00 C481.25,419.97 481.55,418.03 482.30,416.20 C483.05,414.37 484.52,412.33 485.80,411.00 C487.08,409.67 488.73,408.95 490.00,408.20 C491.27,407.45 492.83,406.78 493.40,406.50" fill="none" stroke="#000" stroke-width="1.05" stroke-linejoin="round"/>
<path d="M692.07,487.40 C692.64,486.67 693.71,485.57 695.50,483.00 C697.29,480.43 700.52,475.95 702.80,472.00 C705.08,468.05 707.57,463.05 709.20,459.30 C710.83,455.55 711.67,452.97 712.60,449.50 C713.53,446.03 714.43,442.33 714.80,438.50 C715.17,434.67 715.13,430.32 714.80,426.50 C714.47,422.68 713.47,418.38 712.80,415.60 C712.13,412.82 711.33,411.32 710.80,409.80 C710.27,408.28 710.23,407.73 709.60,406.50 C708.97,405.27 708.70,404.72 707.00,402.40 C705.30,400.08 701.82,395.42 699.40,392.60 C696.98,389.78 694.82,387.75 692.50,385.50 C690.18,383.25 687.85,380.93 685.50,379.10 C683.15,377.27 681.08,375.98 678.40,374.50 C675.72,373.02 672.75,371.85 669.40,370.20 C666.05,368.55 662.57,366.38 658.30,364.60 C654.03,362.82 648.50,360.90 643.80,359.50 C639.10,358.10 634.67,357.20 630.10,356.20 C625.53,355.20 621.72,354.37 616.40,353.50 C611.08,352.63 604.10,351.60 598.20,351.00 C592.30,350.40 586.83,349.93 581.00,349.90 C575.17,349.87 568.23,350.45 563.20,350.80 C558.17,351.15 555.57,351.43 550.80,352.00 C546.03,352.57 539.18,353.33 534.60,354.20 C530.02,355.07 526.98,355.97 523.30,357.20 C519.62,358.43 516.00,360.02 512.50,361.60 C509.00,363.18 505.62,364.88 502.30,366.70 C498.98,368.52 495.23,370.55 492.60,372.50 C489.97,374.45 488.17,376.38 486.50,378.40 C484.83,380.42 483.47,382.50 482.60,384.60 C481.73,386.70 481.35,388.97 481.30,391.00 C481.25,393.03 481.55,394.97 482.30,396.80 C483.05,398.63 484.52,400.67 485.80,402.00 C487.08,403.33 488.73,404.05 490.00,404.80 C491.27,405.55 492.83,406.22 493.40,406.50" fill="none" stroke="#000" stroke-width="1.05" stroke-linejoin="round"/>
<path d="M691.39,324.73 L686.66,322.08 L689.97,319.50 Z" fill="#000"/>
<path d="M713.32,367.09 L710.28,362.60 L714.40,361.77 Z" fill="#000"/>
<path d="M710.04,405.40 L709.68,399.99 L713.66,401.36 Z" fill="#000"/>
<path d="M683.65,435.59 L685.93,430.66 L688.76,433.76 Z" fill="#000"/>
<path d="M635.24,455.56 L639.61,452.35 L640.60,456.43 Z" fill="#000"/>
<path d="M579.30,463.21 L584.16,460.79 L584.43,464.99 Z" fill="#000"/>
<path d="M527.56,456.93 L532.94,456.19 L531.86,460.24 Z" fill="#000"/>
<path d="M485.41,433.55 L490.47,435.52 L487.55,438.53 Z" fill="#000"/>
<path d="M691.91,487.61 L693.33,482.37 L696.64,484.96 Z" fill="#000"/>
<path d="M713.87,443.14 L712.79,437.83 L716.91,438.65 Z" fill="#000"/>
<path d="M708.66,405.01 L704.20,401.91 L707.75,399.66 Z" fill="#000"/>
<path d="M680.73,376.01 L675.39,375.05 L677.67,371.53 Z" fill="#000"/>
<path d="M632.58,356.80 L627.22,357.67 L628.21,353.58 Z" fill="#000"/>
<path d="M577.50,350.08 L572.61,352.43 L572.40,348.23 Z" fill="#000"/>
<path d="M525.51,356.30 L521.67,360.13 L520.09,356.24 Z" fill="#000"/>
<path d="M484.11,382.21 L483.22,387.56 L479.67,385.32 Z" fill="#000"/>
<text x="692.48" y="319.00" font-size="10.0" textLength="20.99" lengthAdjust="spacingAndGlyphs">0.68</text>
<text x="715.07" y="361.90" font-size="10.0" textLength="27.41" lengthAdjust="spacingAndGlyphs">0.786</text>
<text x="684.42" y="370.70" font-size="10.0" textLength="30.66" lengthAdjust="spacingAndGlyphs">-0.946</text>
<text x="710.58" y="400.20" font-size="10.0" textLength="26.87" lengthAdjust="spacingAndGlyphs">0.875</text>
<text x="580.30" y="344.00" font-size="10.0" textLength="25.42" lengthAdjust="spacingAndGlyphs">-1.09</text>
<text x="635.51" y="350.90" font-size="10.0" textLength="25.25" lengthAdjust="spacingAndGlyphs">-1.02</text>
<text x="528.51" y="350.50" font-size="10.0" textLength="25.17" lengthAdjust="spacingAndGlyphs">-1.18</text>
<text x="487.30" y="374.70" font-size="10.0" textLength="25.56" lengthAdjust="spacingAndGlyphs">-1.37</text>
<text x="493.71" y="401.10" font-size="10.0" textLength="32.80" lengthAdjust="spacingAndGlyphs">1e+08</text>
<text x="485.74" y="426.10" font-size="10.0" textLength="21.92" lengthAdjust="spacingAndGlyphs">1.37</text>
<text x="526.53" y="449.90" font-size="10.0" textLength="22.27" lengthAdjust="spacingAndGlyphs">1.18</text>
<text x="578.96" y="457.10" font-size="10.0" textLength="21.57" lengthAdjust="spacingAndGlyphs">1.09</text>
<text x="633.94" y="450.00" font-size="10.0" textLength="21.92" lengthAdjust="spacingAndGlyphs">1.02</text>
<text x="683.47" y="429.80" font-size="10.0" textLength="27.31" lengthAdjust="spacingAndGlyphs">0.946</text>
<text x="716.82" y="438.80" font-size="10.0" textLength="30.76" lengthAdjust="spacingAndGlyphs">-0.786</text>
<text x="693.62" y="481.70" font-size="10.0" textLength="24.65" lengthAdjust="spacingAndGlyphs">-0.68</text>
</svg>
</body></html>
